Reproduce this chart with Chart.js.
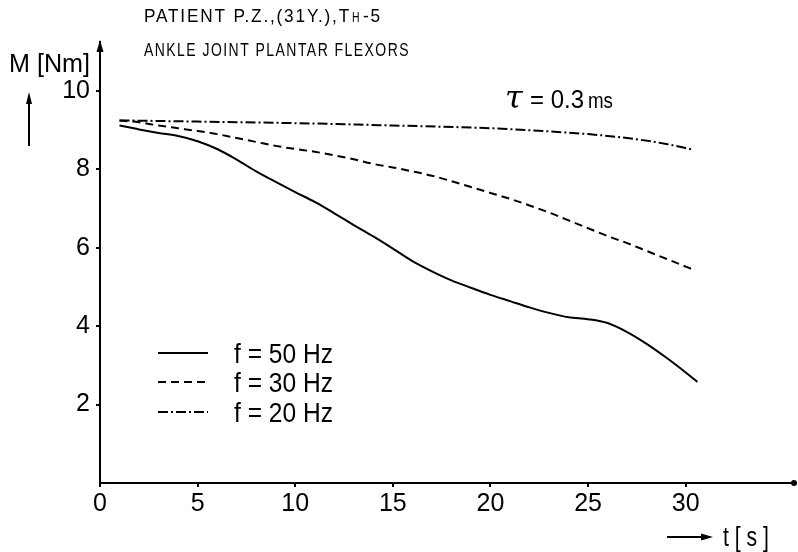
<!DOCTYPE html>
<html>
<head>
<meta charset="utf-8">
<script src="https://cdn.jsdelivr.net/npm/chart.js@4/dist/chart.umd.min.js"></script>
<style>
  html, body { margin: 0; padding: 0; background: #fff; }
  #wrap { width: 798px; height: 552px; position: relative; }
</style>
</head>
<body>
<div id="wrap"><canvas id="chart"></canvas></div>
<script>
// ankle joint plantar flexors - torque decay during stimulation

// series: time [s] and torque [Nm]
const t50 = [1, 2, 3, 4, 5, 6, 7, 8, 9, 10, 11, 12, 13, 14, 15, 16, 17, 18, 19, 20, 21, 22, 23, 24, 25, 26, 27, 28, 29, 30, 30.6];
const m50 = [9.12, 9.02, 8.93, 8.85, 8.72, 8.52, 8.25, 7.95, 7.68, 7.42, 7.17, 6.88, 6.58, 6.29, 5.98, 5.66, 5.40, 5.17, 4.98, 4.80, 4.64, 4.48, 4.34, 4.23, 4.18, 4.08, 3.85, 3.55, 3.20, 2.82, 2.58];

const t30 = [1, 2, 3, 4, 5, 6, 7, 8, 9, 10, 11, 12, 13, 14, 15, 16, 17, 18, 19, 20, 21, 22, 23, 24, 25, 26, 27, 28, 29, 30, 30.4];
const m30 = [9.25, 9.20, 9.12, 9.05, 8.98, 8.90, 8.80, 8.70, 8.60, 8.52, 8.45, 8.36, 8.26, 8.14, 8.05, 7.95, 7.84, 7.70, 7.55, 7.40, 7.25, 7.08, 6.90, 6.70, 6.50, 6.30, 6.12, 5.92, 5.72, 5.52, 5.44];

const t20 = [1, 5, 10, 15, 20, 22, 25, 27, 29, 30.4];
const m20 = [9.25, 9.22, 9.18, 9.12, 9.05, 9.00, 8.90, 8.80, 8.65, 8.50];

const seriesLabels = ["f = 50 Hz", "f = 30 Hz", "f = 20 Hz"];

// axes
const xTicks = [0, 5, 10, 15, 20, 25, 30];
const yTicks = [2, 4, 6, 8, 10];
const xMax = 35.6;
const yMax = 11.25;

const SANS = '"Liberation Sans", Arial, sans-serif';

function pts(xs, ys){ return xs.map((x, i) => ({ x: x, y: ys[i] })); }

// draw text squeezed horizontally so it spans `w` px (the original lettering is narrow)
function fitText(ctx, txt, x, y, size, w){
  ctx.font = size + "px " + SANS;
  const natural = ctx.measureText(txt).width;
  const sx = w / natural;
  ctx.save();
  ctx.translate(x, y);
  ctx.scale(sx, 1);
  ctx.fillText(txt, 0, 0);
  ctx.restore();
  return sx;
}

// extra drawings: titles, axis arrows, tau note, legend
const decorPlugin = {
  id: "decor",
  afterDraw(chart){
    const ctx = chart.ctx;
    const area = chart.chartArea;
    ctx.save();
    ctx.fillStyle = "#000";
    ctx.strokeStyle = "#000";
    ctx.textAlign = "left";
    ctx.textBaseline = "alphabetic";

    // y axis arrowhead
    ctx.beginPath();
    ctx.moveTo(area.left, area.top - 2);
    ctx.lineTo(area.left - 3.5, area.top + 10);
    ctx.lineTo(area.left + 3.5, area.top + 10);
    ctx.closePath();
    ctx.fill();

    // x axis end dot
    ctx.beginPath();
    ctx.arc(area.right - 1, area.bottom, 3, 0, Math.PI * 2);
    ctx.fill();

    // header lines
    ctx.letterSpacing = "2px";
    fitText(ctx, "PATIENT P.Z.,(31Y.),T", 144, 22, 19, 207);
    fitText(ctx, "H", 352, 22, 14, 9);
    fitText(ctx, "-5", 363, 22, 19, 19);
    fitText(ctx, "ANKLE JOINT PLANTAR FLEXORS", 144, 56, 19, 266);
    ctx.letterSpacing = "0px";

    // y axis title + arrow
    fitText(ctx, "M [Nm]", 9, 72, 25, 81);
    ctx.lineWidth = 2;
    ctx.beginPath();
    ctx.moveTo(29, 146);
    ctx.lineTo(29, 100);
    ctx.stroke();
    ctx.beginPath();
    ctx.moveTo(29, 92);
    ctx.lineTo(26, 104);
    ctx.lineTo(32, 104);
    ctx.closePath();
    ctx.fill();

    // x axis title + arrow
    ctx.beginPath();
    ctx.moveTo(667, 537);
    ctx.lineTo(702, 537);
    ctx.stroke();
    ctx.beginPath();
    ctx.moveTo(713, 537);
    ctx.lineTo(701, 533.5);
    ctx.lineTo(701, 540.5);
    ctx.closePath();
    ctx.fill();
    fitText(ctx, "t [ s ]", 723, 546, 27, 46);

    // tau note
    ctx.font = "italic 32px \"DejaVu Serif\", serif";
    ctx.fillText("τ", 505, 108);
    fitText(ctx, "= 0.3", 530, 108, 25, 54);
    fitText(ctx, "ms", 588, 108, 22, 25);

    // legend
    const rows = [353, 382, 412];
    chart.data.datasets.forEach((ds, i) => {
      const y = rows[i];
      ctx.lineWidth = 2;
      ctx.setLineDash(ds.borderDash || []);
      ctx.beginPath();
      ctx.moveTo(158, y);
      ctx.lineTo(208, y);
      ctx.stroke();
      ctx.setLineDash([]);
      fitText(ctx, ds.label, 234, y + 10, 28, 99);
    });

    ctx.restore();
  }
};

const ctx = document.getElementById("chart").getContext("2d");
new Chart(ctx, {
  type: "line",
  data: {
    datasets: [
      { label: seriesLabels[0], data: pts(t50, m50), borderColor: "#000", borderWidth: 2, borderDash: [] },
      { label: seriesLabels[1], data: pts(t30, m30), borderColor: "#000", borderWidth: 2, borderDash: [8, 5] },
      { label: seriesLabels[2], data: pts(t20, m20), borderColor: "#000", borderWidth: 2, borderDash: [10, 3, 2, 3] }
    ]
  },
  options: {
    animation: false,
    responsive: true,
    maintainAspectRatio: false,
    elements: { point: { radius: 0 }, line: { cubicInterpolationMode: "monotone" } },
    layout: { padding: { top: 42, right: 3, left: 0, bottom: 0 } },
    plugins: { legend: { display: false }, tooltip: { enabled: false } },
    scales: {
      x: {
        type: "linear",
        min: 0,
        max: xMax,
        afterBuildTicks: (s) => { s.ticks = xTicks.map(v => ({ value: v })); },
        afterFit: (s) => { s.height = 69; },
        border: { display: true, color: "#000", width: 2 },
        grid: { display: true, drawOnChartArea: false, drawTicks: true, tickLength: 4, color: "#000", lineWidth: 2 },
        ticks: { color: "#000", padding: 2, font: { family: SANS, size: 25 }, maxRotation: 0 }
      },
      y: {
        type: "linear",
        min: 0,
        max: yMax,
        afterBuildTicks: (s) => { s.ticks = yTicks.map(v => ({ value: v })); },
        afterFit: (s) => { s.width = 100; },
        border: { display: true, color: "#000", width: 2 },
        grid: { display: true, drawOnChartArea: false, drawTicks: true, tickLength: 4, color: "#000", lineWidth: 2 },
        ticks: { color: "#000", padding: 6, font: { family: SANS, size: 25 } }
      }
    }
  },
  plugins: [decorPlugin]
});
</script>
</body>
</html>
